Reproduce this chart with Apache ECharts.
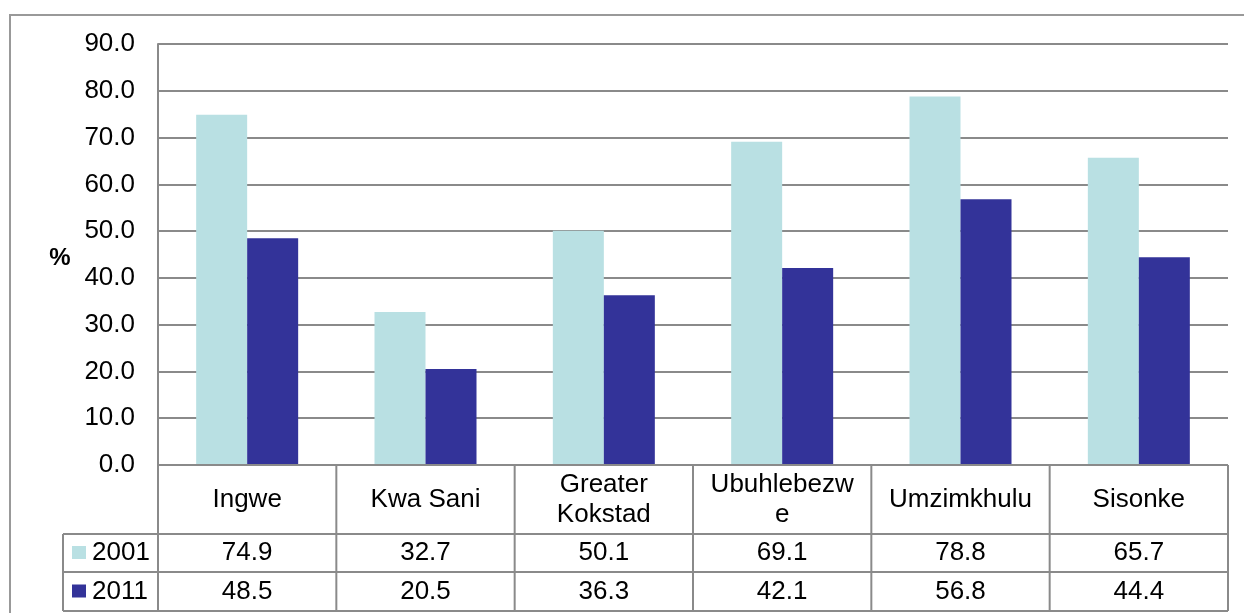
<!DOCTYPE html>
<html>
<head>
<meta charset="utf-8">
<style>
  html, body { margin: 0; padding: 0; background: #ffffff; }
  #chart { width: 1244px; height: 613px; }
</style>
<script src="https://cdn.jsdelivr.net/npm/echarts@6/dist/echarts.min.js"></script>
</head>
<body>
<div id="chart"></div>
<script>
// Municipalities shown along the category axis and in the data table
const categories = ['Ingwe', 'Kwa Sani', 'Greater\nKokstad', 'Ubuhlebezw\ne', 'Umzimkhulu', 'Sisonke'];
const years = ['2001', '2011'];
const values2001 = [74.9, 32.7, 50.1, 69.1, 78.8, 65.7];
const values2011 = [48.5, 20.5, 36.3, 42.1, 56.8, 44.4];
const yMin = 0, yMax = 90, yStep = 10;

const colors = ['#B9E0E3', '#333399'];
const lineColor = '#8a8a8a';
const font = '"Liberation Sans", Arial, sans-serif';
const fontSize = 26;

const chart = echarts.init(document.getElementById('chart'), null, { renderer: 'canvas' });

const option = {
  animation: false,
  backgroundColor: '#ffffff',
  grid: { left: 158, right: 16, top: 44, bottom: 148, containLabel: false },
  xAxis: {
    type: 'category',
    data: categories,
    axisLine: { show: false },
    axisTick: { show: false },
    axisLabel: { show: false },
    splitLine: { show: false }
  },
  yAxis: {
    type: 'value',
    min: yMin, max: yMax, interval: yStep,
    axisLine: { show: true, lineStyle: { color: lineColor, width: 2 } },
    axisTick: { show: false },
    axisLabel: {
      color: '#000', fontFamily: font, fontSize: fontSize, margin: 23,
      formatter: v => v.toFixed(1)
    },
    splitLine: { show: true, lineStyle: { color: lineColor, width: 2 } }
  },
  series: [
    { name: years[0], type: 'bar', data: values2001, barWidth: 51, barGap: '0%',
      itemStyle: { color: colors[0] } },
    { name: years[1], type: 'bar', data: values2011, barWidth: 51, barGap: '0%',
      itemStyle: { color: colors[1] } }
  ]
};
chart.setOption(option);

// Data table under the plot, aligned with the category axis
function buildTable() {
  const g = [];
  const c0 = chart.convertToPixel({ xAxisIndex: 0 }, 0);
  const c1 = chart.convertToPixel({ xAxisIndex: 0 }, 1);
  const step = c1 - c0;
  const left = c0 - step / 2;
  const right = left + step * categories.length;
  const yTop = chart.convertToPixel({ yAxisIndex: 0 }, 0);
  const yCatBottom = yTop + 69;
  const yRow1Bottom = yCatBottom + 38;
  const yRow2Bottom = yRow1Bottom + 39;
  const legendLeft = 63;
  const ls = { stroke: lineColor, lineWidth: 2 };
  const textFont = fontSize + 'px ' + font;

  // outer frame of the chart area
  g.push({ type: 'rect', shape: { x: 10, y: 15, width: 1300, height: 700 },
    style: { fill: null, stroke: '#999999', lineWidth: 2 }, z: 0 });

  // horizontal rules
  g.push({ type: 'line', shape: { x1: left, y1: yTop, x2: right, y2: yTop }, style: ls, z: 10 });
  [yCatBottom, yRow1Bottom, yRow2Bottom].forEach(y => {
    g.push({ type: 'line', shape: { x1: legendLeft, y1: y, x2: right, y2: y }, style: ls, z: 10 });
  });
  // vertical rules
  for (let i = 0; i <= categories.length; i++) {
    const x = left + step * i;
    g.push({ type: 'line', shape: { x1: x, y1: yTop, x2: x, y2: yRow2Bottom }, style: ls, z: 10 });
  }
  g.push({ type: 'line', shape: { x1: legendLeft, y1: yCatBottom, x2: legendLeft, y2: yRow2Bottom }, style: ls, z: 10 });

  // category names
  categories.forEach((name, i) => {
    g.push({ type: 'text', x: left + step * (i + 0.5), y: (yTop + yCatBottom) / 2,
      style: { text: name, fill: '#000', font: textFont,
        align: 'center', verticalAlign: 'middle', lineHeight: 30 }, z: 11 });
  });

  // value rows with legend keys
  const rows = [
    { year: years[0], vals: values2001, color: colors[0], y0: yCatBottom, y1: yRow1Bottom },
    { year: years[1], vals: values2011, color: colors[1], y0: yRow1Bottom, y1: yRow2Bottom }
  ];
  rows.forEach(r => {
    const cy = (r.y0 + r.y1) / 2;
    g.push({ type: 'rect', shape: { x: 72, y: cy - 7, width: 14, height: 13 },
      style: { fill: r.color }, z: 11 });
    g.push({ type: 'text', x: 92, y: cy,
      style: { text: r.year, fill: '#000', font: textFont,
        align: 'left', verticalAlign: 'middle' }, z: 11 });
    r.vals.forEach((v, i) => {
      g.push({ type: 'text', x: left + step * (i + 0.5), y: cy,
        style: { text: v.toFixed(1), fill: '#000', font: textFont,
          align: 'center', verticalAlign: 'middle' }, z: 11 });
    });
  });

  // axis title
  g.push({ type: 'text', x: 60, y: 258,
    style: { text: '%', fill: '#000', font: 'bold 24px ' + font,
      align: 'center', verticalAlign: 'middle' }, z: 11 });

  chart.setOption({ graphic: { elements: g } });
}
buildTable();
</script>
</body>
</html>
